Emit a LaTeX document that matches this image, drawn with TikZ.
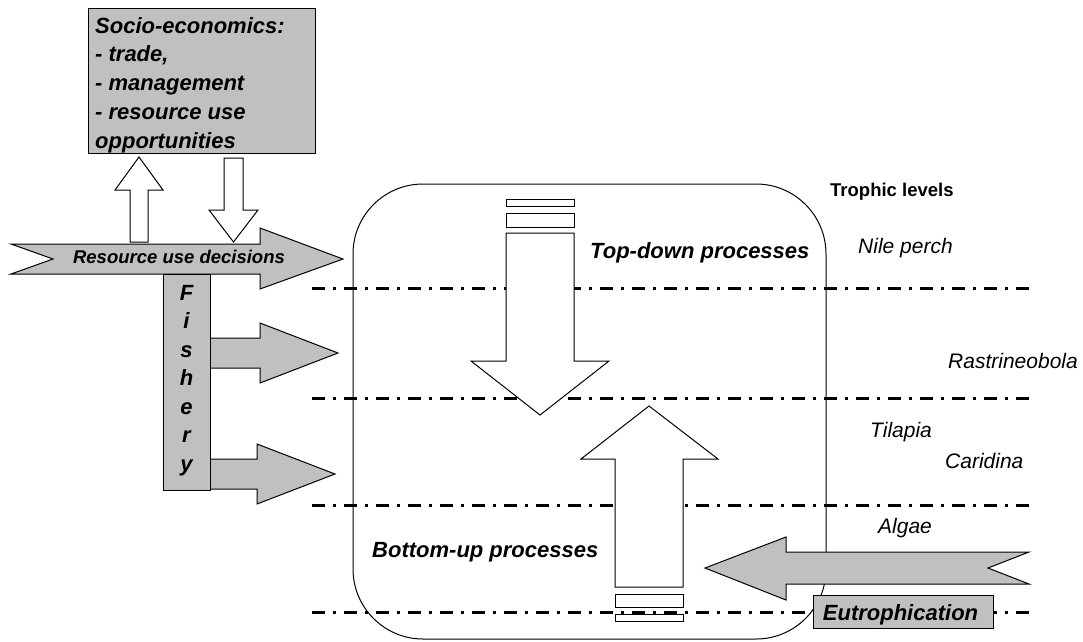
\documentclass[tikz,border=0pt]{standalone}
\usepackage{fontspec}
\setmainfont{Liberation Sans}
\definecolor{boxgray}{RGB}{192,192,192}
\tikzset{
  outline/.style={draw=black, line width=1pt, line join=miter},
  grayshape/.style={outline, fill=boxgray},
  whiteshape/.style={outline, fill=white},
  levelline/.style={line width=3pt, dash pattern=on 13pt off 8pt on 3pt off 8pt},
  species/.style={anchor=base west, inner sep=0pt, font=\fontsize{21}{25}\selectfont\itshape},
  proc/.style={anchor=base west, inner sep=0pt, font=\fontsize{22}{26}\selectfont\bfseries\itshape},
}
\begin{document}
\begin{tikzpicture}[x=1pt,y=-1pt]
\useasboundingbox (0,0) rectangle (1083,641);

% trophic level separators
\foreach \yy/\nm in {288/l1,398/l2,505/l3,612/l4}{
  \coordinate (\nm a) at (312,\yy);
  \coordinate (\nm b) at (1029,\yy);
  \draw[levelline] (\nm a) -- (\nm b);
}

% ecosystem frame
\draw[line width=1pt, rounded corners=70pt] (353,184) rectangle (826,639);

% socio-economics box
\node[grayshape, anchor=north west, minimum width=227pt, minimum height=145pt, inner sep=0pt] (socio) at (88,8) {};
\node[anchor=north west, inner sep=0pt, align=left, font=\fontsize{22}{28.7}\selectfont\bfseries\itshape] (sociotext) at (95,13)
  {\rule{0pt}{20pt}Socio-economics:\\- trade,\\- management\\- resource use\\opportunities};

% small up / down arrows
\draw[whiteshape] (130,242) -- (148,242) -- (148,190) -- (163,190) -- (139,157) -- (115,190) -- (130,190) -- cycle;
\draw[whiteshape] (224,158) -- (243,158) -- (243,210) -- (258,210) -- (233.5,242) -- (209,210) -- (224,210) -- cycle;

% resource use decisions arrow
\draw[grayshape] (11,244) -- (260,244) -- (260,228) -- (343,259) -- (260,289) -- (260,274) -- (11,274) -- (53,259) -- cycle;
\node[anchor=base, inner sep=0pt, font=\fontsize{18.5}{22}\selectfont\bfseries\itshape] (rud) at (179,263) {Resource use decisions};

% fishery arrows
\draw[grayshape] (210,338) -- (260,338) -- (260,323) -- (338,353) -- (260,383) -- (260,368) -- (210,368) -- cycle;
\draw[grayshape] (210,459) -- (257,459) -- (257,444) -- (335,474) -- (257,504) -- (257,489) -- (210,489) -- cycle;

% fishery box
\node[grayshape, anchor=north west, minimum width=47pt, minimum height=216pt, inner sep=0pt] (fish) at (163,274) {};
\node[anchor=north, inner sep=0pt, align=center, font=\fontsize{22}{28.5}\selectfont\bfseries\itshape] (fishtext) at (186.5,280)
  {\rule{0pt}{20pt}F\\i\\s\\h\\e\\r\\y};

% top-down arrow
\draw[whiteshape] (506,199) rectangle (574,206);
\draw[whiteshape] (506,213) rectangle (574,227);
\draw[whiteshape] (506,233) -- (574,233) -- (574,361) -- (609,361) -- (540,415) -- (471,361) -- (506,361) -- cycle;

% bottom-up arrow
\draw[whiteshape] (615,587) -- (683,587) -- (683,459) -- (718,459) -- (649,406) -- (581,459) -- (615,459) -- cycle;
\draw[whiteshape] (615,594) rectangle (683,607);
\draw[whiteshape] (615,614) rectangle (683,621);

% eutrophication arrow and box
\draw[grayshape] (1029,552) -- (786,552) -- (786,537) -- (705,568) -- (786,600) -- (786,584) -- (1029,584) -- (988,568) -- cycle;
\node[grayshape, minimum width=180pt, minimum height=33pt, inner sep=0pt] (eutro) at (903,611.5) {};
\node[anchor=base, inner sep=0pt, font=\fontsize{22}{26}\selectfont\bfseries\itshape] (eutrotext) at (900.5,620) {Eutrophication};

% process labels
\node[proc] (topdown) at (590,258) {Top-down processes};
\node[proc] (bottomup) at (372,557) {Bottom-up processes};

% trophic levels
\node[anchor=base west, inner sep=0pt, font=\fontsize{18.5}{22}\selectfont\bfseries] (trophic) at (830,196) {Trophic levels};
\node[species] (nile) at (858,253) {Nile perch};
\node[species] (rastri) at (948,368) {Rastrineobola};
\node[species] (tilapia) at (870,437) {Tilapia};
\node[species] (caridina) at (945,468) {Caridina};
\node[species] (algae) at (878,533) {Algae};
\end{tikzpicture}
\end{document}
